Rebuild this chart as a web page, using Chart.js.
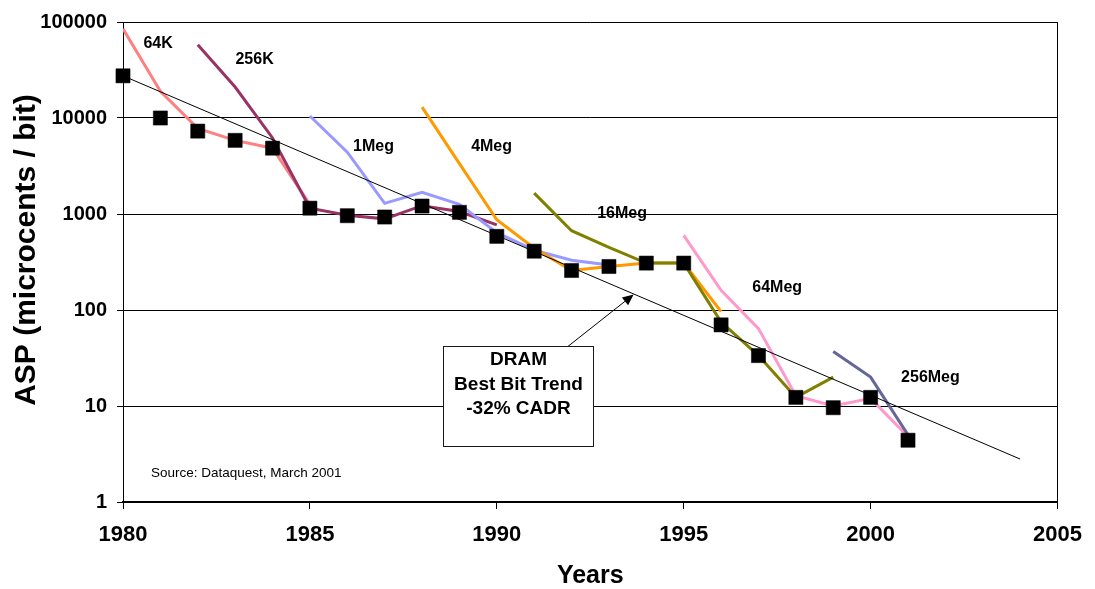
<!DOCTYPE html>
<html>
<head>
<meta charset="utf-8">
<title>DRAM price per bit</title>
<script src="https://cdn.jsdelivr.net/npm/chart.js@4.4.1/dist/chart.umd.min.js"></script>
<style>
  html, body { margin: 0; padding: 0; background: #ffffff; }
  #wrap { width: 1095px; height: 589px; }
</style>
</head>
<body>
<div id="wrap"><canvas id="chart" width="1095" height="589"></canvas></div>
<script>
// ---- Average selling price per bit (microcents / bit) ----
const bestBitYears = [1980, 1981, 1982, 1983, 1984, 1985, 1986, 1987, 1988, 1989, 1990,
                      1991, 1992, 1993, 1994, 1995, 1996, 1997, 1998, 1999, 2000, 2001];
const bestBitAsp   = [27500, 10000, 7300, 5850, 4850, 1150, 960, 930, 1210, 1040, 585,
                      410, 258, 284, 308, 308, 70, 33.5, 12.3, 9.6, 12.3, 4.4];

const years64K  = [1980, 1981, 1982, 1983, 1984, 1985];
const asp64K    = [85000, 19000, 7800, 5850, 4850, 1250];

const years256K = [1982, 1983, 1984, 1985, 1986, 1987, 1988, 1989, 1990];
const asp256K   = [58000, 21000, 6200, 1150, 970, 890, 1220, 1060, 770];

const years1M   = [1985, 1986, 1987, 1988, 1989, 1990, 1991, 1992, 1993];
const asp1M     = [10500, 4400, 1290, 1680, 1260, 640, 420, 330, 295];

const years4M   = [1988, 1989, 1990, 1991, 1992, 1993, 1994, 1995, 1996];
const asp4M     = [13000, 3350, 870, 440, 258, 284, 308, 308, 96];

const years16M  = [1991, 1992, 1993, 1994, 1995, 1996, 1997, 1998, 1999];
const asp16M    = [1650, 670, 450, 308, 308, 75, 33.5, 12.3, 20];

const years64M  = [1995, 1996, 1997, 1998, 1999, 2000, 2001];
const asp64M    = [600, 160, 64, 12.8, 10, 12, 4.8];

const years256M = [1999, 2000, 2001];
const asp256M   = [37, 20, 5];

const trendYears = [1980, 2004];
const trendAsp   = [27500, 2.8];

const xTickYears = [1980, 1985, 1990, 1995, 2000, 2005];
const yTickDecades = [1, 10, 100, 1000, 10000, 100000];

// ---- helpers ----
const FONT = '"Liberation Sans", Arial, Helvetica, sans-serif';
const pts = (xs, ys) => xs.map((yr, i) => ({ x: yr, y: ys[i] }));

function chipLine(label, xs, ys, color, order) {
  return {
    label, data: pts(xs, ys), borderColor: color, backgroundColor: color,
    borderWidth: 3, pointRadius: 0, tension: 0, order
  };
}

// Generation names placed next to their curves (year, ASP)
const chipLabelAnchors = [
  { text: '64K',    year: 1980.94, asp: 60000 },
  { text: '256K',   year: 1983.52, asp: 41000 },
  { text: '1Meg',   year: 1986.70, asp: 5000 },
  { text: '4Meg',   year: 1989.86, asp: 5000 },
  { text: '16Meg',  year: 1993.35, asp: 1020 },
  { text: '64Meg',  year: 1997.50, asp: 173 },
  { text: '256Meg', year: 2001.60, asp: 19.6 }
];

const overlay = {
  id: 'overlay',
  afterDatasetsDraw(chart) {
    const { ctx, chartArea, scales: { x, y } } = chart;
    ctx.save();

    // generation labels
    ctx.fillStyle = '#000';
    ctx.font = 'bold 16px ' + FONT;
    ctx.textAlign = 'center';
    ctx.textBaseline = 'middle';
    chipLabelAnchors.forEach(a => {
      ctx.fillText(a.text, x.getPixelForValue(a.year), y.getPixelForValue(a.asp));
    });

    // callout box for the trend line
    const bx1 = Math.round(x.getPixelForValue(1988.56)) + 0.5;
    const bx2 = Math.round(x.getPixelForValue(1992.57)) + 0.5;
    const by1 = Math.round(y.getPixelForValue(42.4)) + 0.5;
    const by2 = Math.round(y.getPixelForValue(3.8)) + 0.5;

    // arrow from the box to the trend line
    const ax1 = x.getPixelForValue(1991.9), ay1 = by1;
    const ax2 = x.getPixelForValue(1993.66), ay2 = y.getPixelForValue(145);
    const ang = Math.atan2(ay2 - ay1, ax2 - ax1);
    const head = 11, half = 5;
    ctx.strokeStyle = '#000';
    ctx.lineWidth = 1;
    ctx.beginPath();
    ctx.moveTo(ax1, ay1);
    ctx.lineTo(ax2 - Math.cos(ang) * head * 0.8, ay2 - Math.sin(ang) * head * 0.8);
    ctx.stroke();
    ctx.beginPath();
    ctx.moveTo(ax2, ay2);
    ctx.lineTo(ax2 - Math.cos(ang) * head - Math.sin(ang) * half,
               ay2 - Math.sin(ang) * head + Math.cos(ang) * half);
    ctx.lineTo(ax2 - Math.cos(ang) * head + Math.sin(ang) * half,
               ay2 - Math.sin(ang) * head - Math.cos(ang) * half);
    ctx.closePath();
    ctx.fillStyle = '#000';
    ctx.fill();

    ctx.fillStyle = '#fff';
    ctx.fillRect(bx1, by1, bx2 - bx1, by2 - by1);
    ctx.strokeStyle = '#1a1a1a';
    ctx.lineWidth = 1;
    ctx.strokeRect(bx1, by1, bx2 - bx1, by2 - by1);

    ctx.fillStyle = '#000';
    ctx.font = 'bold 19px ' + FONT;
    ctx.textAlign = 'center';
    ctx.textBaseline = 'middle';
    const cx = (bx1 + bx2) / 2;
    ctx.fillText('DRAM', cx, by1 + 13.5);
    ctx.fillText('Best Bit Trend', cx, by1 + 38);
    ctx.fillText('-32% CADR', cx, by1 + 62.5);

    // source note
    ctx.font = '13.5px ' + FONT;
    ctx.textAlign = 'left';
    ctx.fillText('Source: Dataquest, March 2001', chartArea.left + 28, chartArea.bottom - 28.5);

    // vertical axis title
    ctx.translate(chartArea.left - 88, (chartArea.top + chartArea.bottom) / 2 - 12);
    ctx.rotate(-Math.PI / 2);
    ctx.font = 'bold 30px ' + FONT;
    ctx.textAlign = 'center';
    ctx.textBaseline = 'alphabetic';
    ctx.fillText('ASP (microcents / bit)', 0, 0);

    ctx.restore();
  }
};

new Chart(document.getElementById('chart'), {
  type: 'line',
  data: {
    datasets: [
      {
        label: 'Best bit', data: pts(bestBitYears, bestBitAsp),
        showLine: false, pointStyle: 'rect', pointRadius: 10, pointHoverRadius: 10,
        pointBackgroundColor: '#000', pointBorderColor: '#000', pointBorderWidth: 0.5,
        clip: false, order: 0
      },
      {
        label: 'Trend', data: pts(trendYears, trendAsp),
        borderColor: '#000', borderWidth: 1, pointRadius: 0, tension: 0, order: 1
      },
      chipLine('256Meg', years256M, asp256M, '#666699', 2),
      chipLine('64Meg',  years64M,  asp64M,  '#FF99CC', 3),
      chipLine('16Meg',  years16M,  asp16M,  '#808000', 4),
      chipLine('4Meg',   years4M,   asp4M,   '#FF9900', 5),
      chipLine('1Meg',   years1M,   asp1M,   '#9999FF', 6),
      chipLine('256K',   years256K, asp256K, '#993366', 7),
      chipLine('64K',    years64K,  asp64K,  '#FF8080', 8)
    ]
  },
  options: {
    responsive: false,
    animation: false,
    devicePixelRatio: 1,
    layout: { padding: { left: 0, right: 29, top: 20, bottom: 0 } },
    plugins: { legend: { display: false }, tooltip: { enabled: false } },
    scales: {
      x: {
        type: 'linear', min: 1980, max: 2005,
        afterBuildTicks: s => { s.ticks = xTickYears.map(v => ({ value: v })); },
        afterFit: s => { s.height = 87; },
        ticks: {
          color: '#000', padding: 13,
          font: { family: FONT, size: 22, weight: 'bold' },
          callback: v => String(v)
        },
        grid: {
          color: c => (c.tick && c.tick.value === 2005 ? '#000' : 'rgba(0,0,0,0)'),
          tickColor: '#000', tickLength: 7, lineWidth: 1
        },
        border: { color: '#000', width: 2 },
        title: {
          display: true, text: 'Years', color: '#000',
          font: { family: FONT, size: 25, weight: 'bold', lineHeight: 1 },
          padding: { top: 0, bottom: 0 }
        }
      },
      y: {
        type: 'logarithmic', min: 1, max: 100000,
        afterBuildTicks: s => { s.ticks = yTickDecades.map(v => ({ value: v })); },
        afterFit: s => { s.width = 123; },
        ticks: {
          color: '#000', padding: 10,
          font: { family: FONT, size: 20, weight: 'bold' },
          callback: v => String(v)
        },
        grid: { color: '#000', tickColor: '#000', tickLength: 6, lineWidth: 1 },
        border: { color: '#000', width: 1 }
      }
    }
  },
  plugins: [overlay]
});
</script>
</body>
</html>
